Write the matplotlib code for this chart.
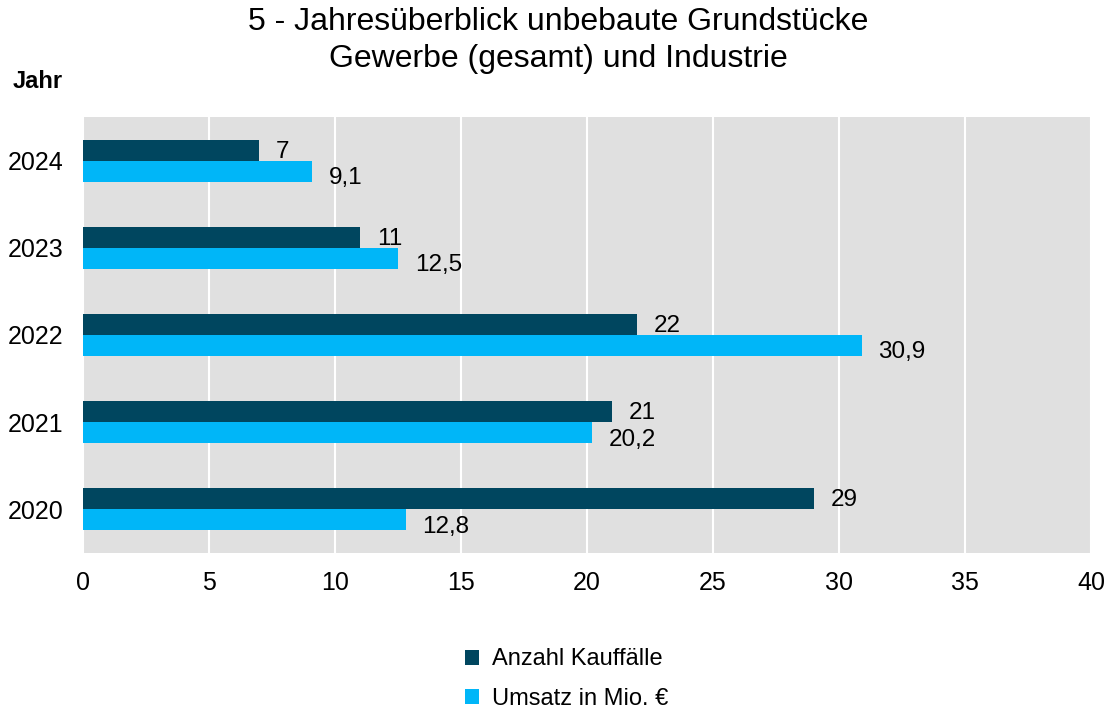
import numpy as np
import matplotlib.pyplot as plt

plt.rcParams['font.family'] = ['Liberation Sans', 'DejaVu Sans']

years = ['2020', '2021', '2022', '2023', '2024']
kauffaelle = [29, 21, 22, 11, 7]
umsatz = [12.8, 20.2, 30.9, 12.5, 9.1]
labels_k = ['29', '21', '22', '11', '7']
labels_u = ['12,8', '20,2', '30,9', '12,5', '9,1']

dark = '#00465f'
light = '#00b6f8'

fig = plt.figure(figsize=(11.16, 7.12), dpi=100)
ax = fig.add_axes([83 / 1116, 1 - 553 / 712, 1008 / 1116, 436 / 712])
ax.set_facecolor('#e0e0e0')

y = np.arange(len(years))
h = 0.24
ax.barh(y + h / 2, kauffaelle, height=h, color=dark, label='Anzahl Kauffälle', zorder=3)
ax.barh(y - h / 2, umsatz, height=h, color=light, label='Umsatz in Mio. €', zorder=3)

for i in range(len(years)):
    ax.annotate(labels_k[i], (kauffaelle[i], y[i] + h / 2), xytext=(12, -1),
                textcoords='offset points', va='center', fontsize=17.5)
    ax.annotate(labels_u[i], (umsatz[i], y[i] - h / 2), xytext=(12, -5),
                textcoords='offset points', va='center', fontsize=17.5)

ax.set_xlim(0, 40)
ax.set_ylim(-0.5, 4.5)
ax.set_xticks(range(0, 41, 5))
ax.set_yticks(y)
ax.set_yticklabels(years)
ax.tick_params(axis='both', length=0, labelsize=18)
ax.tick_params(axis='x', pad=13)
ax.tick_params(axis='y', pad=14)
ax.grid(axis='x', color='white', linewidth=1.5, zorder=1)
for s in ax.spines.values():
    s.set_visible(False)

fig.text(0.5, 1 - 7 / 712, '5 - Jahresüberblick unbebaute Grundstücke\nGewerbe (gesamt) und Industrie',
         ha='center', va='top', fontsize=23, linespacing=1.3)
fig.text(13 / 1116, 1 - 82 / 712, 'Jahr', fontsize=17, fontweight='bold', va='center')

ax.legend(loc='upper center', bbox_to_anchor=(0.48, -0.17), ncol=1, frameon=False,
          fontsize=17, handlelength=0.6, handleheight=0.6, handletextpad=0.55, labelspacing=0.75)

fig.savefig('out.png', dpi=100)
